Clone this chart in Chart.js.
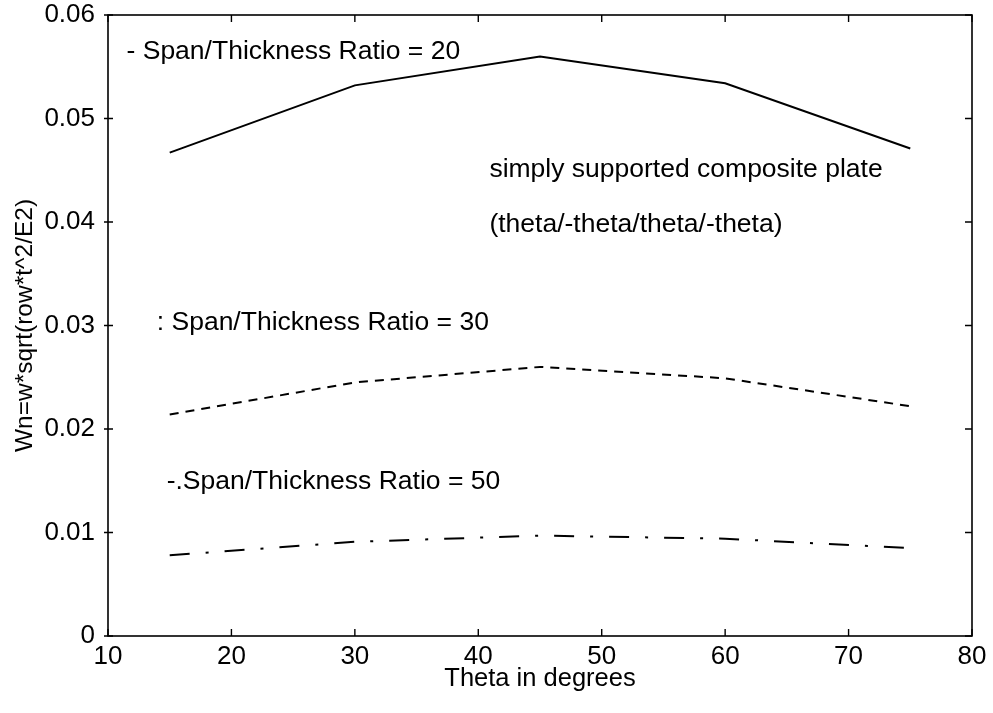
<!DOCTYPE html>
<html><head><meta charset="utf-8">
<script src="https://cdn.jsdelivr.net/npm/chart.js@4/dist/chart.umd.min.js"></script>
<style>html,body{margin:0;padding:0;background:#fff;}#wrap{width:993px;height:713px;}</style>
</head><body><div id="wrap"><canvas id="c" width="993" height="713"></canvas></div>
<script>
// ---- data ----
const theta = [15, 30, 45, 60, 75];
const ratio20 = [0.0467, 0.0532, 0.0560, 0.0534, 0.0471];
const ratio30 = [0.0214, 0.0245, 0.0260, 0.0249, 0.0222];
const ratio50 = [0.0078, 0.0091, 0.0097, 0.0094, 0.0085];
const xTickValues = [10, 20, 30, 40, 50, 60, 70, 80];
const yTickValues = [0, 0.01, 0.02, 0.03, 0.04, 0.05, 0.06];
const yTickLabels = ['0', '0.01', '0.02', '0.03', '0.04', '0.05', '0.06'];
const seriesNames = ['Span/Thickness Ratio = 20', 'Span/Thickness Ratio = 30', 'Span/Thickness Ratio = 50'];
const noteTexts = ['- Span/Thickness Ratio = 20', ': Span/Thickness Ratio = 30', '-.Span/Thickness Ratio = 50',
  'simply supported composite plate', '(theta/-theta/theta/-theta)'];
const xTitle = 'Theta in degrees';
const yTitle = 'Wn=w*sqrt(row*t^2/E2)';

const FONT = 'Liberation Sans, Arial, sans-serif';
const toPts = ys => theta.map((t, i) => ({x: t, y: ys[i]}));

// annotation anchors (data coords) kept separate from data
const noteAnchors = [[11.5, 0.0565], [13.95, 0.0303], [14.75, 0.0149], [40.9, 0.0451], [40.9, 0.0397]];

const notesPlugin = {
  id: 'notes',
  afterDraw(chart) {
    const {ctx, chartArea: a, scales: {x, y}} = chart;
    ctx.save();
    ctx.strokeStyle = '#000';
    ctx.lineWidth = 1.6;
    ctx.strokeRect(a.left, a.top, a.right - a.left, a.bottom - a.top);
    ctx.lineWidth = 1.4;
    const tl = 7;
    x.ticks.forEach(t => {
      const px = x.getPixelForValue(t.value);
      ctx.beginPath();
      ctx.moveTo(px, a.bottom); ctx.lineTo(px, a.bottom - tl);
      ctx.moveTo(px, a.top); ctx.lineTo(px, a.top + tl);
      ctx.stroke();
    });
    y.ticks.forEach(t => {
      const py = y.getPixelForValue(t.value);
      ctx.beginPath();
      ctx.moveTo(a.left - 4, py); ctx.lineTo(a.left + 5, py);
      ctx.moveTo(a.right, py); ctx.lineTo(a.right - tl, py);
      ctx.stroke();
    });
    ctx.fillStyle = '#000';
    ctx.font = '26.5px ' + FONT;
    ctx.textAlign = 'left';
    ctx.textBaseline = 'middle';
    noteTexts.forEach((s, i) => {
      ctx.fillText(s, x.getPixelForValue(noteAnchors[i][0]), y.getPixelForValue(noteAnchors[i][1]));
    });
    ctx.restore();
  }
};

new Chart(document.getElementById('c'), {
  type: 'line',
  data: {
    datasets: [
      {label: seriesNames[0], data: toPts(ratio20), borderColor: '#000', borderWidth: 2, pointRadius: 0, tension: 0, fill: false},
      {label: seriesNames[1], data: toPts(ratio30), borderColor: '#000', borderWidth: 2, borderDash: [9, 7], pointRadius: 0, tension: 0, fill: false},
      {label: seriesNames[2], data: toPts(ratio50), borderColor: '#000', borderWidth: 2, borderDash: [20, 16, 3, 16], pointRadius: 0, tension: 0, fill: false}
    ]
  },
  options: {
    responsive: false,
    animation: false,
    devicePixelRatio: 1,
    layout: {padding: {left: 0, top: 15, right: 21, bottom: 0}},
    plugins: {legend: {display: false}, tooltip: {enabled: false}},
    scales: {
      x: {
        type: 'linear', min: 10, max: 80,
        afterBuildTicks: s => { s.ticks = xTickValues.map(v => ({value: v})); },
        afterFit: s => { s.height = 77; s.paddingLeft = 0; s.paddingRight = 0; },
        grid: {drawOnChartArea: false, drawTicks: false},
        border: {display: false},
        ticks: {color: '#000', font: {family: FONT, size: 26}, padding: 5, maxRotation: 0, autoSkip: false},
        title: {display: true, text: xTitle, color: '#000', font: {family: FONT, size: 25.5}, padding: {top: 0, bottom: 19}}
      },
      y: {
        type: 'linear', min: 0, max: 0.06,
        afterBuildTicks: s => { s.ticks = yTickValues.map(v => ({value: v})); },
        afterFit: s => { s.width = 108; s.paddingTop = 0; s.paddingBottom = 0; },
        grid: {drawOnChartArea: false, drawTicks: false},
        border: {display: false},
        ticks: {color: '#000', font: {family: FONT, size: 26}, padding: 13, autoSkip: false,
          callback: (v) => { const i = yTickValues.findIndex(t => Math.abs(t - v) < 1e-9); return i >= 0 ? yTickLabels[i] : ''; }},
        title: {display: true, text: yTitle, color: '#000', font: {family: FONT, size: 24.5}, padding: {top: 11, bottom: 0}}
      }
    }
  },
  plugins: [notesPlugin]
});
</script></body></html>
